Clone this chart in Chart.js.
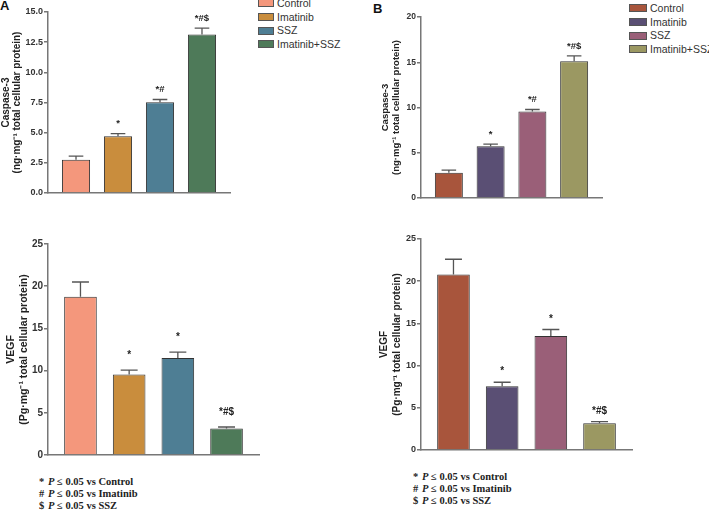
<!DOCTYPE html>
<html><head><meta charset="utf-8">
<script src="https://cdn.jsdelivr.net/npm/chart.js@4.4.1/dist/chart.umd.min.js"></script>
<style>
html,body{margin:0;padding:0;background:#fff;}
#wrap{position:relative;width:709px;height:511px;overflow:hidden;font-family:"Liberation Sans",Arial,sans-serif;background:#fff;}
canvas{position:absolute;}
.lbl{position:absolute;font-weight:bold;font-size:13px;color:#111;line-height:13px;}
.leg{position:absolute;font-size:10.5px;color:#333;}
.leg .row{height:13.6px;line-height:13.6px;white-space:nowrap;}
.leg .sw{display:inline-block;vertical-align:middle;box-sizing:border-box;border:1px solid #555;margin-right:3px;position:relative;top:-1px;}
.fn{position:absolute;font-family:"Liberation Serif","Times New Roman",serif;font-weight:bold;font-size:10.5px;color:#222;line-height:12px;white-space:nowrap;}
.fn .s{display:inline-block;width:9px;}
</style>
</head><body>
<div id="wrap">
  <div class="lbl" style="left:0px;top:-1px;">A</div>
  <div class="lbl" style="left:373px;top:2px;">B</div>
  <div class="leg" id="legA" style="left:258px;top:-2.8px;"></div>
  <div class="leg" id="legB" style="left:629px;top:2.2px;"></div>
  <div class="fn" id="fnA" style="left:39px;top:475.7px;"></div>
  <div class="fn" id="fnB" style="left:413px;top:470.7px;"></div>
</div>
<script>
// ---- data ----
const categories = ['Control', 'Imatinib', 'SSZ', 'Imatinib+SSZ'];
const casA_mean = [2.76, 4.70, 7.53, 13.14];
const casA_sem  = [0.30, 0.22, 0.22, 0.52];
const casB_mean = [2.79, 5.73, 9.56, 15.10];
const casB_sem  = [0.30, 0.22, 0.22, 0.60];
const vegfA_mean = [18.75, 9.53, 11.50, 3.13];
const vegfA_sem  = [1.75, 0.52, 0.70, 0.19];
const vegfB_mean = [20.80, 7.55, 13.50, 3.17];
const vegfB_sem  = [1.80, 0.48, 0.78, 0.20];
const casSig  = ['', '*', '*#', '*#$'];
const vegfSig = ['', '*', '*', '*#$'];
const casA_ticks  = [0, 2.5, 5, 7.5, 10, 12.5, 15];
const casB_ticks  = [0, 5, 10, 15, 20];
const vegf_ticks  = [0, 5, 10, 15, 20, 25];
const casTitle  = ['Caspase-3', '(ng·mg⁻¹ total cellular protein)'];
const vegfTitle = ['VEGF', '(Pg·mg⁻¹ total cellular protein)'];
const footSymbols = ['*', '#', '$'];
const footTargets = ['Control', 'Imatinib', 'SSZ'];

// ---- styles ----
const colorsA = ['#f4977c', '#c98d3d', '#4e7e94', '#4e7a59'];
const colorsB = ['#a8553c', '#5a4f74', '#9a5f78', '#9b9862'];
const FONT = '"Liberation Sans", Arial, sans-serif';

const errPlugin = {
  id: 'errbars',
  afterDatasetsDraw(chart, args, o) {
    const ctx = chart.ctx;
    const meta = chart.getDatasetMeta(0);
    const ys = chart.scales.y;
    const ds = chart.data.datasets[0];
    ctx.save();
    meta.data.forEach((bar, i) => {
      const v = ds.data[i].y;
      const top = ys.getPixelForValue(v + o.sem[i]);
      const cw = bar.width * 0.52;
      ctx.strokeStyle = '#555';
      ctx.lineWidth = 1.3;
      ctx.beginPath();
      ctx.moveTo(bar.x, bar.y);
      ctx.lineTo(bar.x, top);
      ctx.moveTo(bar.x - cw / 2, top);
      ctx.lineTo(bar.x + cw / 2, top);
      ctx.stroke();
      if (o.sig[i]) {
        ctx.fillStyle = '#222';
        ctx.font = 'bold ' + o.sigSize + 'px ' + FONT;
        ctx.textAlign = 'center';
        ctx.textBaseline = 'middle';
        ctx.fillText(o.sig[i], bar.x, top - o.gap);
      }
    });
    ctx.restore();
  }
};

const wrap = document.getElementById('wrap');
function makeChart(cfg) {
  const cv = document.createElement('canvas');
  cv.width = cfg.box.w; cv.height = cfg.box.h;
  cv.style.left = cfg.box.x + 'px'; cv.style.top = cfg.box.y + 'px';
  cv.style.width = cfg.box.w + 'px'; cv.style.height = cfg.box.h + 'px';
  wrap.appendChild(cv);
  const padTop = cfg.area.t - cfg.box.y;
  const padBottom = cfg.box.y + cfg.box.h - cfg.area.b;
  const padRight = cfg.box.x + cfg.box.w - cfg.area.r;
  const yW = cfg.area.l - cfg.box.x;
  return new Chart(cv, {
    type: 'bar',
    data: {
      labels: categories,
      datasets: [{
        data: cfg.mean.map((v, i) => ({ x: i, y: v })),
        backgroundColor: cfg.colors,
        borderColor: '#333',
        borderWidth: 1,
        barPercentage: 0.67,
        categoryPercentage: 1
      }]
    },
    options: {
      responsive: false, animation: false, devicePixelRatio: 1,
      layout: { padding: { top: padTop, bottom: padBottom, right: padRight, left: 0 } },
      plugins: {
        legend: { display: false }, tooltip: { enabled: false },
        errbars: { sem: cfg.sem, sig: cfg.sig, gap: cfg.gap, sigSize: cfg.sigSize }
      },
      scales: {
        x: {
          type: 'linear', min: -0.667, max: 3.667, offset: false, bounds: 'data', grace: 0,
          afterBuildTicks(s) { s.ticks = categories.map((c, i) => ({ value: i })); },
          ticks: { display: false }, grid: { display: false, offset: false },
          border: { display: true, color: '#777', width: 1.5 },
          afterFit(s) { s.height = 0; }
        },
        y: {
          min: 0, max: cfg.ticks[cfg.ticks.length - 1],
          afterBuildTicks(s) { s.ticks = cfg.ticks.map(v => ({ value: v })); },
          ticks: {
            font: { family: FONT, size: cfg.tickSize, weight: 'bold' }, color: '#333', padding: 1,
            callback: (v) => cfg.fmt(v)
          },
          grid: { drawOnChartArea: false, drawTicks: true, tickLength: 4, color: '#777', lineWidth: 1.5 },
          border: { display: true, color: '#777', width: 1.5 },
          title: {
            display: true, text: cfg.title, color: '#222',
            font: { family: FONT, size: cfg.titleSize, weight: 'bold', lineHeight: cfg.titleLH },
            padding: { top: cfg.titlePad, bottom: 0 }
          },
          afterFit(s) { s.width = yW; }
        }
      }
    },
    plugins: [errPlugin]
  });
}

makeChart({ box: { x: 0, y: 0, w: 240, h: 205 }, area: { l: 48, t: 12, r: 230, b: 193 },
  mean: casA_mean, sem: casA_sem, sig: casSig, colors: colorsA, ticks: casA_ticks,
  fmt: v => v.toFixed(1), tickSize: 9, title: casTitle, titleSize: 10, titleLH: 1.15, titlePad: 0,
  gap: 10, sigSize: 9.5 });
makeChart({ box: { x: 0, y: 225, w: 270, h: 245 }, area: { l: 48, t: 244, r: 259, b: 455 },
  mean: vegfA_mean, sem: vegfA_sem, sig: vegfSig, colors: colorsA, ticks: vegf_ticks,
  fmt: v => String(v), tickSize: 10, title: vegfTitle, titleSize: 10.5, titleLH: 1.2, titlePad: 5,
  gap: 14.5, sigSize: 10 });
makeChart({ box: { x: 365, y: 0, w: 250, h: 210 }, area: { l: 421, t: 17, r: 602, b: 198 },
  mean: casB_mean, sem: casB_sem, sig: casSig, colors: colorsB, ticks: casB_ticks,
  fmt: v => String(v), tickSize: 8.5, title: casTitle, titleSize: 9.5, titleLH: 1.1, titlePad: 15.5,
  gap: 10, sigSize: 9.5 });
makeChart({ box: { x: 365, y: 225, w: 280, h: 240 }, area: { l: 421, t: 239, r: 632, b: 450 },
  mean: vegfB_mean, sem: vegfB_sem, sig: vegfSig, colors: colorsB, ticks: vegf_ticks,
  fmt: v => String(v), tickSize: 9, title: vegfTitle, titleSize: 10, titleLH: 1.3, titlePad: 12.5,
  gap: 10.5, sigSize: 10 });

function buildLegend(id, colors, w) {
  const el = document.getElementById(id);
  categories.forEach((c, i) => {
    const row = document.createElement('div'); row.className = 'row';
    const sw = document.createElement('span'); sw.className = 'sw';
    sw.style.width = w + 'px'; sw.style.height = '8px'; sw.style.background = colors[i];
    row.appendChild(sw); row.appendChild(document.createTextNode(c));
    el.appendChild(row);
  });
}
buildLegend('legA', colorsA, 16);
buildLegend('legB', colorsB, 18);

function buildFoot(id) {
  const el = document.getElementById(id);
  footSymbols.forEach((s, i) => {
    const row = document.createElement('div');
    row.innerHTML = '<span class="s">' + s + '</span><i>P</i> \u2264 0.05 vs ' + footTargets[i];
    el.appendChild(row);
  });
}
buildFoot('fnA');
buildFoot('fnB');
</script>
</body></html>
